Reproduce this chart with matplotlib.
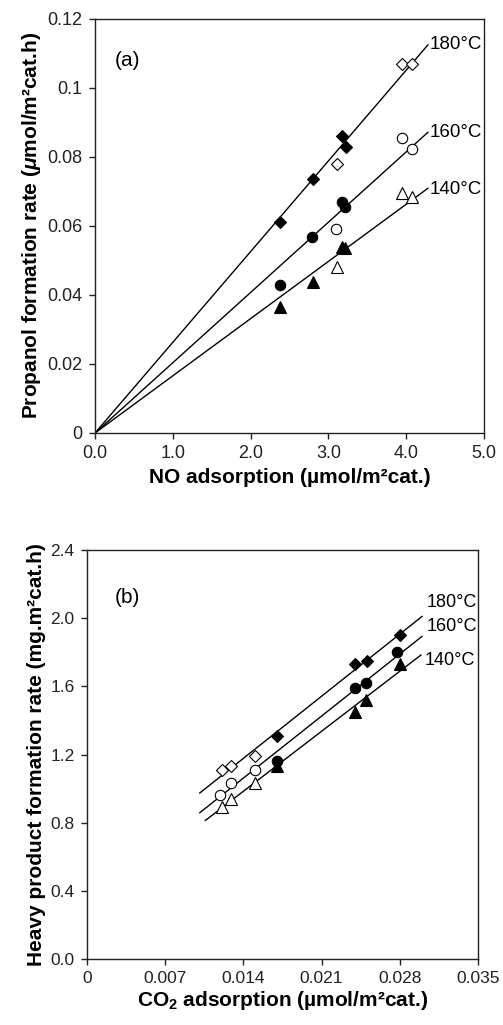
import numpy as np
import matplotlib
matplotlib.use("Agg")
import matplotlib.pyplot as plt

plt.rcParams['font.family'] = ['Liberation Sans', 'DejaVu Sans']
plt.rcParams['mathtext.fontset'] = 'custom'
plt.rcParams['mathtext.rm'] = 'Liberation Sans:bold'
plt.rcParams['mathtext.it'] = 'Liberation Sans:italic:bold'
plt.rcParams['mathtext.bf'] = 'Liberation Sans:bold'

# ---- (a) propanol rate vs NO adsorption ----
temps = ['180°C', '160°C', '140°C']

no_filled_x = {'180°C': [2.38, 2.80, 3.18, 3.23],
               '160°C': [2.38, 2.79, 3.17, 3.22],
               '140°C': [2.38, 2.80, 3.17, 3.22]}
no_filled_y = {'180°C': [0.0612, 0.0736, 0.0860, 0.0830],
               '160°C': [0.0430, 0.0568, 0.0670, 0.0655],
               '140°C': [0.0366, 0.0438, 0.0540, 0.0535]}
no_open_x = {'180°C': [3.11, 3.95, 4.07],
             '160°C': [3.10, 3.95, 4.07],
             '140°C': [3.11, 3.95, 4.07]}
no_open_y = {'180°C': [0.0780, 0.1070, 0.1070],
             '160°C': [0.0590, 0.0855, 0.0823],
             '140°C': [0.0480, 0.0695, 0.0683]}
no_line_end = 4.28

# ---- (b) heavy product rate vs CO2 adsorption ----
co2_filled_x = {'180°C': [0.0170, 0.0240, 0.0251, 0.0280],
                '160°C': [0.0170, 0.0240, 0.0250, 0.0278],
                '140°C': [0.0170, 0.0240, 0.0250, 0.0280]}
co2_filled_y = {'180°C': [1.31, 1.73, 1.75, 1.90],
                '160°C': [1.16, 1.59, 1.62, 1.80],
                '140°C': [1.135, 1.45, 1.52, 1.73]}
co2_open_x = {'180°C': [0.0121, 0.0129, 0.0150],
              '160°C': [0.0119, 0.0129, 0.0150],
              '140°C': [0.0121, 0.0129, 0.0150]}
co2_open_y = {'180°C': [1.11, 1.13, 1.19],
              '160°C': [0.965, 1.035, 1.11],
              '140°C': [0.894, 0.94, 1.03]}
co2_line_start = {'180°C': 0.0101, '160°C': 0.0101, '140°C': 0.0106}
co2_line_end = {'180°C': 0.0300, '160°C': 0.0300, '140°C': 0.0299}

markers = {'180°C': 'D', '160°C': 'o', '140°C': '^'}
msize = {'180°C': 6.5, '160°C': 7.5, '140°C': 8}

a_xticks = [0, 1, 2, 3, 4, 5]
a_xticklabels = ['0.0', '1.0', '2.0', '3.0', '4.0', '5.0']
a_yticks = [0, 0.02, 0.04, 0.06, 0.08, 0.10, 0.12]
a_yticklabels = ['0', '0.02', '0.04', '0.06', '0.08', '0.1', '0.12']
b_xticks = [0, 0.007, 0.014, 0.021, 0.028, 0.035]
b_xticklabels = ['0', '0.007', '0.014', '0.021', '0.028', '0.035']
b_yticks = [0, 0.4, 0.8, 1.2, 1.6, 2.0, 2.4]
b_yticklabels = ['0.0', '0.4', '0.8', '1.2', '1.6', '2.0', '2.4']

fig = plt.figure(figsize=(5.03, 10.25), dpi=100)
ax_a = fig.add_axes([0.189, 0.5776, 0.773, 0.404])
ax_b = fig.add_axes([0.173, 0.0644, 0.777, 0.399])


def style_axes(ax, size):
    for sp in ax.spines.values():
        sp.set_linewidth(1.0)
        sp.set_color('#222222')
    ax.tick_params(direction='out', length=4, width=1, labelsize=size,
                   top=False, right=False, colors='#222222', pad=5)


def draw_points(ax, x, y, t, filled):
    ax.plot(x, y, linestyle='none', marker=markers[t], ms=msize[t],
            mfc='black' if filled else 'white', mec='black', mew=0.8,
            zorder=3)


# panel (a): lines forced through the origin
label_off_a = {'180°C': (1, 0), '160°C': (1, 0), '140°C': (1, -1)}
for t in temps:
    xs = np.array(no_filled_x[t] + no_open_x[t])
    ys = np.array(no_filled_y[t] + no_open_y[t])
    slope = np.sum(xs * ys) / np.sum(xs * xs)
    lx = np.array([0.0, no_line_end])
    ax_a.plot(lx, slope * lx, color='black', lw=1.0, zorder=2)
    draw_points(ax_a, no_filled_x[t], no_filled_y[t], t, True)
    draw_points(ax_a, no_open_x[t], no_open_y[t], t, False)
    ax_a.annotate(t, xy=(lx[-1], slope * lx[-1]), xytext=label_off_a[t],
                  textcoords='offset points', ha='left', va='center',
                  fontsize=13.5)

ax_a.set_xlim(0, 5)
ax_a.set_ylim(0, 0.12)
ax_a.set_xticks(a_xticks)
ax_a.set_xticklabels(a_xticklabels)
ax_a.set_yticks(a_yticks)
ax_a.set_yticklabels(a_yticklabels)
ax_a.set_xlabel('NO adsorption (µmol/m²cat.)', fontsize=15, fontweight='bold',
                labelpad=4)
ax_a.set_ylabel(r'Propanol formation rate ($\mu$mol/m²cat.h)', fontsize=15,
                fontweight='bold', labelpad=3)
ax_a.text(0.051, 0.90, '(a)', transform=ax_a.transAxes, fontsize=15,
          ha='left', va='center')
style_axes(ax_a, 13)

# panel (b): ordinary least-squares lines
label_off_b = {'180°C': (3, 10), '160°C': (3, 7), '140°C': (3, -4)}
for t in temps:
    xs = np.array(co2_filled_x[t] + co2_open_x[t])
    ys = np.array(co2_filled_y[t] + co2_open_y[t])
    k, b = np.polyfit(xs, ys, 1)
    lx = np.array([co2_line_start[t], co2_line_end[t]])
    ax_b.plot(lx, k * lx + b, color='black', lw=1.0, zorder=2)
    draw_points(ax_b, co2_filled_x[t], co2_filled_y[t], t, True)
    draw_points(ax_b, co2_open_x[t], co2_open_y[t], t, False)
    ax_b.annotate(t, xy=(lx[-1], k * lx[-1] + b), xytext=label_off_b[t],
                  textcoords='offset points', ha='left', va='center',
                  fontsize=13)

ax_b.set_xlim(0, 0.035)
ax_b.set_ylim(0, 2.4)
ax_b.set_xticks(b_xticks)
ax_b.set_xticklabels(b_xticklabels)
ax_b.set_yticks(b_yticks)
ax_b.set_yticklabels(b_yticklabels)
ax_b.set_xlabel(r'CO$_2$ adsorption (µmol/m²cat.)', fontsize=15,
                fontweight='bold', labelpad=2)
ax_b.set_ylabel('Heavy product formation rate (mg.m²cat.h)', fontsize=15,
                fontweight='bold', labelpad=3)
ax_b.text(0.072, 0.885, '(b)', transform=ax_b.transAxes, fontsize=15,
          ha='left', va='center')
style_axes(ax_b, 12.5)

fig.savefig('out.png', dpi=100, facecolor='white')
